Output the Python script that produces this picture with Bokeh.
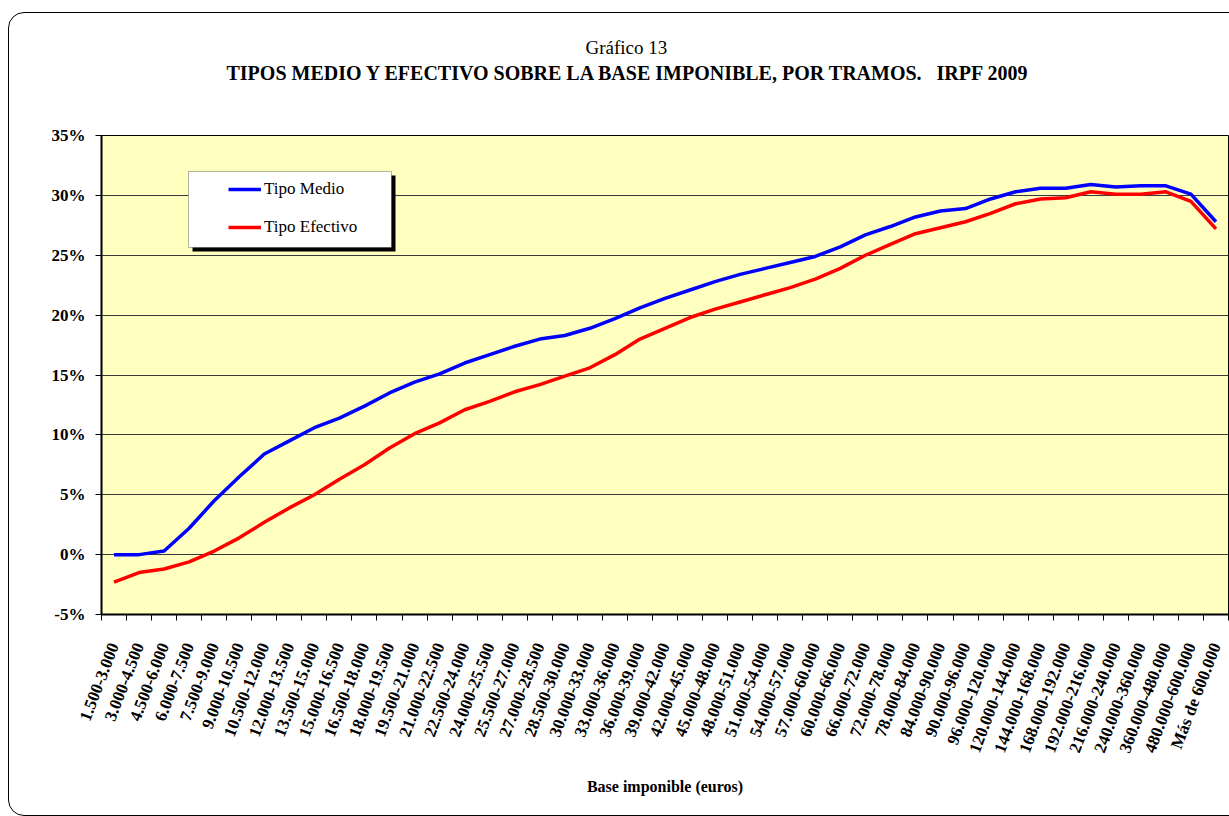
import math
from bokeh.plotting import figure
from bokeh.models import (Range1d, FixedTicker, Title, BoxAnnotation, Legend,
                          InlineStyleSheet, GlobalInlineStyleSheet)
from bokeh.embed import file_html
from bokeh.resources import INLINE

tramos = ["1.500-3.000", "3.000-4.500", "4.500-6.000", "6.000-7.500", "7.500-9.000",
          "9.000-10.500", "10.500-12.000", "12.000-13.500", "13.500-15.000",
          "15.000-16.500", "16.500-18.000", "18.000-19.500", "19.500-21.000",
          "21.000-22.500", "22.500-24.000", "24.000-25.500", "25.500-27.000",
          "27.000-28.500", "28.500-30.000", "30.000-33.000", "33.000-36.000",
          "36.000-39.000", "39.000-42.000", "42.000-45.000", "45.000-48.000",
          "48.000-51.000", "51.000-54.000", "54.000-57.000", "57.000-60.000",
          "60.000-66.000", "66.000-72.000", "72.000-78.000", "78.000-84.000",
          "84.000-90.000", "90.000-96.000", "96.000-120.000", "120.000-144.000",
          "144.000-168.000", "168.000-192.000", "192.000-216.000", "216.000-240.000",
          "240.000-360.000", "360.000-480.000", "480.000-600.000", "Más de 600.000"]

tipo_medio = [0.0, 0.0, 0.3, 2.2, 4.5, 6.5, 8.4, 9.5, 10.6, 11.4, 12.4, 13.5, 14.4,
              15.1, 16.0, 16.7, 17.4, 18.0, 18.3, 18.9, 19.7, 20.6, 21.4, 22.1, 22.8,
              23.4, 23.9, 24.4, 24.9, 25.7, 26.7, 27.4, 28.2, 28.7, 28.9, 29.7, 30.3,
              30.6, 30.6, 30.9, 30.7, 30.8, 30.8, 30.1, 27.8]

tipo_efectivo = [-2.3, -1.5, -1.2, -0.6, 0.3, 1.4, 2.7, 3.9, 5.0, 6.3, 7.5, 8.9, 10.1,
                 11.0, 12.1, 12.8, 13.6, 14.2, 14.9, 15.6, 16.7, 18.0, 18.9, 19.8, 20.5,
                 21.1, 21.7, 22.3, 23.0, 23.9, 25.0, 25.9, 26.8, 27.3, 27.8, 28.5, 29.3,
                 29.7, 29.8, 30.3, 30.1, 30.1, 30.3, 29.5, 27.2]

y_ticks = [-5, 0, 5, 10, 15, 20, 25, 30, 35]

SERIF = "Liberation Serif"
idx = list(range(len(tramos)))

p = figure(width=1229, height=816, output_backend="svg", toolbar_location=None,
           x_range=Range1d(-0.5, len(tramos) - 0.5), y_range=Range1d(-5, 35),
           min_border_left=101, min_border_right=1, min_border_top=135,
           min_border_bottom=202)
p.background_fill_color = "#FFFFC0"
p.border_fill_color = "white"
p.outline_line_color = "black"
p.outline_line_width = 1

# grid
p.xgrid.grid_line_color = None
p.ygrid.ticker = FixedTicker(ticks=y_ticks)
p.ygrid.grid_line_color = "#3a3a3a"
p.ygrid.grid_line_width = 1

# y axis
ya = p.yaxis[0]
ya.ticker = FixedTicker(ticks=y_ticks)
ya.major_label_overrides = {t: f"{t}%" for t in y_ticks}
ya.axis_line_color = "black"
ya.axis_line_width = 2
ya.major_tick_out = 6
ya.major_tick_in = 0
ya.major_tick_line_color = "black"
ya.minor_tick_line_color = None
ya.major_label_standoff = 10
ya.major_label_text_font = SERIF
ya.major_label_text_font_style = "bold"
ya.major_label_text_font_size = "17px"
ya.major_label_text_color = "black"

# x axis
xa = p.xaxis[0]
xa.ticker = FixedTicker(ticks=idx, minor_ticks=[i - 0.5 for i in range(len(tramos) + 1)])
xa.major_label_overrides = {i: t for i, t in enumerate(tramos)}
xa.axis_line_color = "black"
xa.axis_line_width = 2
xa.major_tick_out = 0
xa.major_tick_in = 0
xa.minor_tick_out = 6
xa.minor_tick_in = 0
xa.minor_tick_line_color = "black"
xa.major_label_orientation = math.radians(69)
xa.major_label_standoff = 23
xa.major_label_text_font = SERIF
xa.major_label_text_font_style = "bold"
xa.major_label_text_font_size = "17px"
xa.major_label_text_color = "black"
xa.axis_label = "Base imponible (euros)"
xa.axis_label_text_font = SERIF
xa.axis_label_text_font_style = "bold"
xa.axis_label_text_font_size = "16px"
xa.axis_label_text_color = "black"
xa.axis_label_standoff = 16

# series
r1 = p.line(idx, tipo_medio, line_color="#0000FF", line_width=3.5)
r2 = p.line(idx, tipo_efectivo, line_color="#FF0000", line_width=3.5)

# legend box with shadow
p.add_layout(BoxAnnotation(left=3.134, right=11.24, top=31.66, bottom=25.31,
                           fill_color="black", fill_alpha=1, line_color=None))
p.add_layout(BoxAnnotation(left=2.974, right=11.08, top=32.0, bottom=25.65,
                           fill_color="white", fill_alpha=1, line_color="black",
                           line_width=1))

legend = Legend(items=[("Tipo Medio", [r1]), ("Tipo Efectivo", [r2])],
                location=(127, 377), border_line_color=None, background_fill_alpha=0,
                padding=0, margin=0, spacing=18, label_height=20, glyph_height=20,
                glyph_width=33, label_standoff=3, label_text_font=SERIF,
                label_text_font_size="17px", label_text_color="black")
p.add_layout(legend, "center")

# titles (a blank spacer title keeps the heading clear of the plot frame)
p.title.text = ""
p.add_layout(Title(text=" ", standoff=38, text_font=SERIF, text_font_size="10px"), "above")
p.add_layout(Title(text="TIPOS MEDIO Y EFECTIVO SOBRE LA BASE IMPONIBLE, POR TRAMOS.\u00a0\u00a0\u00a0IRPF 2009",
                   align="left", offset=125, standoff=2, text_font=SERIF,
                   text_font_style="bold", text_font_size="20px", text_color="black"),
             "above")
p.add_layout(Title(text="Gráfico 13", align="left", offset=484, standoff=2,
                   text_font=SERIF, text_font_style="normal", text_font_size="19px",
                   text_color="black"), "above")

p.stylesheets = [
    InlineStyleSheet(css=":host::after{content:'';position:absolute;left:8px;top:12px;"
                         "right:-24px;bottom:0;border:1px solid #000;border-radius:16px;"
                         "pointer-events:none;}"),
    GlobalInlineStyleSheet(css="html,body{overflow:hidden;}"),
]

open("out.html", "w").write(file_html(p, INLINE))
